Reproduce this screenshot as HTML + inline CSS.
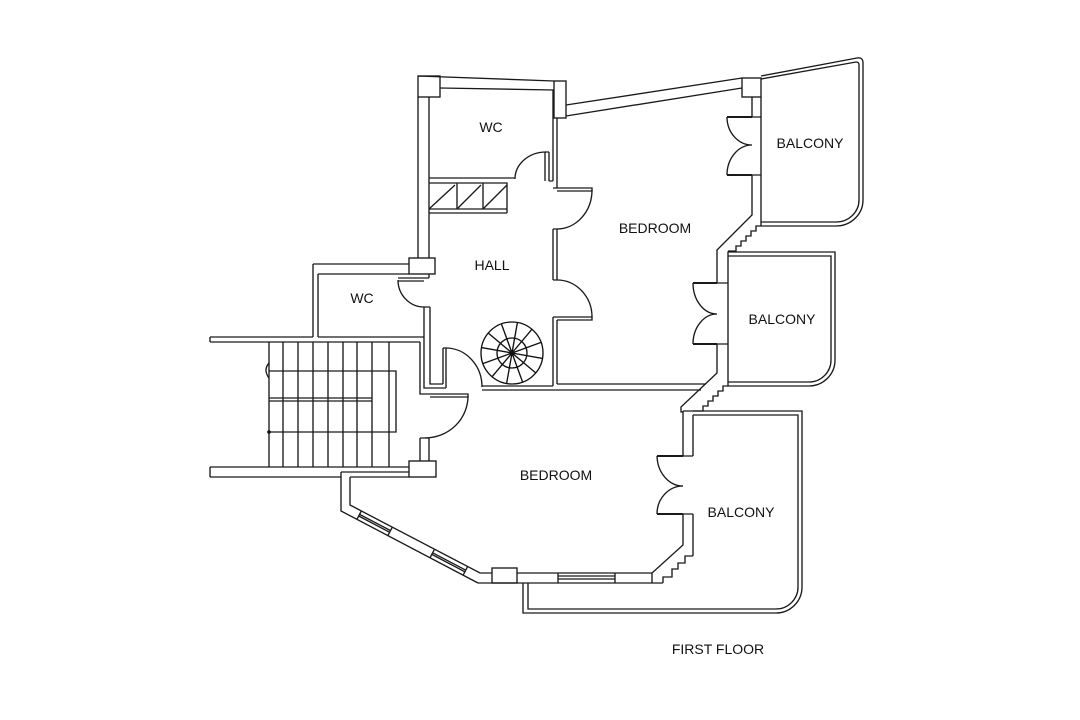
<!DOCTYPE html>
<html>
<head>
<meta charset="utf-8">
<style>
  html,body{margin:0;padding:0;background:#fff;}
  svg{display:block;}
  text{font-family:"Liberation Sans",Arial,sans-serif;font-size:14px;fill:#111;}
</style>
</head>
<body>
<svg width="1080" height="720" viewBox="0 0 1080 720" xmlns="http://www.w3.org/2000/svg">
<rect width="1080" height="720" fill="#fff"/>
<g fill="none" stroke="#1a1a1a" stroke-width="1.35" stroke-linejoin="miter">

  <!-- ===== Upper WC block ===== -->
  <rect x="418" y="76" width="22" height="21"/>
  <path d="M418,76 L554,81"/>
  <path d="M440,88 L554,90"/>
  <rect x="554" y="81" width="12" height="37"/>
  <path d="M418,97 V258 M429,97 V258"/>
  <path d="M553,90 V181 M557,118 V188"/>
  <path d="M429,178 H515"/>
  <!-- WC door -->
  <path d="M545,152 V181 M549,152 V181 M545,152 H549 M549,181 H553"/>
  <path d="M546,152 A31,27 0 0 0 515,179"/>
  <!-- cabinet -->
  <path d="M429,183 H507 V213 M429,209 H507 M429,213 H507 M457,183 V209 M483,183 V209"/>
  <path d="M429,209 L455,185 M457,209 L481,185 M483,209 L507,185"/>

  <!-- ===== Hall right wall & doors ===== -->
  <path d="M553,188 H592 V191 H557"/>
  <path d="M592,190 A35,39 0 0 1 557,229"/>
  <path d="M553,229 V280 M557,229 V280 M553,229 H557 M553,280 H557"/>
  <path d="M557,280 A35,37 0 0 1 592,317"/>
  <path d="M553,317 H592 V320 H557"/>
  <path d="M553,317 V386 M557,320 V384"/>

  <!-- ===== Upper bedroom ===== -->
  <path d="M566,105 L742,78 M566,116 L742,88"/>
  <rect x="742" y="78" width="19" height="19"/>
  <path d="M752,97 V117 M761,97 V226"/>
  <path d="M752,117 H761 M752,175 H761"/>
  <path d="M727,117 H752 M727,175 H752" stroke-width="2"/>
  <path d="M727,117 A25,28 0 0 0 752,145 M752,145 A25,30 0 0 0 727,175"/>
  <path d="M752,175 V215 L717,250 V283"/>
  <path d="M761,226 H756 V231 H751 V236 H746 V241 H741 V246 H736 V251 H728"/>
  <!-- balcony 2 door -->
  <path d="M717,283 H728 M717,344 H728"/>
  <path d="M693,283 H717 M693,344 H717" stroke-width="2"/>
  <path d="M693,283 A24,31 0 0 0 717,314 M717,314 A24,30 0 0 0 693,344"/>
  <path d="M717,344 V373 L681,407 V412 H683"/>
  <path d="M728,386 H723 V391 H718 V396 H713 V401 H708 V406 H703 V411 H693"/>
  <path d="M557,384 H706"/>
  <path d="M482,386 H553"/>
  <path d="M482,390 H701"/>

  <!-- ===== Balcony 1 ===== -->
  <path d="M761,76 L857,58 Q863,57 863,63 V200 A27,26 0 0 1 836,226 H761"/>
  <path d="M761,79 L856,62 Q859,62 859,65 V200 A23,22 0 0 1 836,222 H761"/>

  <!-- ===== Balcony 2 ===== -->
  <path d="M728,252 H835 V360 A26,26 0 0 1 809,386 H728 Z"/>
  <path d="M728,256 H831 V360 A22,22 0 0 1 809,382 H728"/>

  <!-- ===== Balcony 3 ===== -->
  <path d="M683,411 H802 V587 A26,26 0 0 1 776,613 H523 V583"/>
  <path d="M693,415 H798 V587 A22,22 0 0 1 776,609 H528 V583"/>

  <!-- lower bedroom right wall and door -->
  <path d="M683,411 V456 M693,415 V456"/>
  <path d="M683,456 H693 M683,514 H693"/>
  <path d="M657,456 H683 M657,514 H683" stroke-width="2"/>
  <path d="M657,456 A26,31 0 0 0 683,486 M683,486 A26,28 0 0 0 657,514"/>
  <path d="M683,514 V545 L652,573 V583 M693,514 V556"/>
  <path d="M693,556 H685 V563 H678 V569 H672 V577 H663 V583"/>

  <!-- ===== Lower bedroom bottom & diagonal ===== -->
  <path d="M517,573 H652"/>
  <path d="M478,583 H663"/>
  <rect x="492" y="568" width="25" height="15"/>
  <path d="M558,573 V583 M615,573 V583 M558,576 H615 M558,579 H615"/>
  <path d="M341,472 V511 L478,583"/>
  <path d="M350,477 V505 L480,573 H492"/>
  <!-- diagonal windows -->
  <path d="M356.9,519.4 L361.3,511.0 M387.9,535.6 L392.3,527.2 M358.7,516.0 L389.7,532.3 M359.6,514.4 L390.6,530.6"/>
  <path d="M430.0,557.8 L434.4,549.4 M463.1,575.2 L467.5,566.8 M431.8,554.4 L464.9,571.8 M432.7,552.8 L465.8,570.2"/>
  <path d="M341,472 H409 M350,477 H409"/>

  <!-- ===== Stair walls ===== -->
  <path d="M210,467 H409 M210,477 H341 M210,467 V477"/>
  <rect x="409" y="461" width="27" height="16"/>
  <path d="M420,438 V461 M429,438 V461 M420,438 H429"/>
  <path d="M468,396 A43,42 0 0 1 425,438"/>
  <path d="M430,394 H468 V397 H430"/>
  <path d="M420,342 V394 H430"/>

  <!-- hall left lower wall & landing door -->
  <path d="M424,307 V388 H446 M430,307 V384 H443 M424,307 H430"/>
  <path d="M443,348 V384 M446,348 V388 M443,348 H446"/>
  <path d="M446,348 A36,39 0 0 1 482,387"/>

  <!-- ===== WC2 ===== -->
  <path d="M313,264 H409 M318,274 H409 M313,264 V337 M318,274 V337"/>
  <path d="M210,337 H313 M318,337 H424 M210,342 H420 M210,337 V342"/>
  <rect x="409" y="258" width="26" height="16"/>
  <path d="M429,274 V278 M398,278 H429 M398,281 H424"/>
  <path d="M398,280 A26,27 0 0 0 424,307"/>

  <!-- ===== Stair treads ===== -->
  <path d="M269,342 V467 M283,342 V467 M298,342 V467 M313,342 V467 M328,342 V467 M343,342 V467 M357,342 V467 M372,342 V467 M389,342 V467"/>
  <path d="M269,371 H396 V432 H269 M269,398 H372 M269,401 H372"/>
  <path d="M269,363 Q263,370 269,378"/>

  <!-- ===== Spiral stair ===== -->
  <circle cx="512" cy="353" r="31" stroke="#111"/>
  <circle cx="512" cy="353" r="15" stroke="#111"/>
  <path stroke="#111" d="M512,353 L542.5,358.4 M512,353 L535.7,372.9 M512,353 L522.6,382.1 M512,353 L506.6,383.5 M512,353 L492.1,376.7 M512,353 L482.9,363.6 M512,353 L481.5,347.6 M512,353 L488.3,333.1 M512,353 L501.4,323.9 M512,353 L517.4,322.5 M512,353 L531.9,329.3 M512,353 L541.1,342.4"/>
</g>
<circle cx="269" cy="432" r="1.8" fill="#111"/>

<!-- ===== Labels ===== -->
<text x="491" y="132" text-anchor="middle">WC</text>
<text x="655" y="233" text-anchor="middle">BEDROOM</text>
<text x="492" y="270" text-anchor="middle">HALL</text>
<text x="362" y="303" text-anchor="middle">WC</text>
<text x="810" y="148" text-anchor="middle">BALCONY</text>
<text x="782" y="324" text-anchor="middle">BALCONY</text>
<text x="556" y="480" text-anchor="middle">BEDROOM</text>
<text x="741" y="517" text-anchor="middle">BALCONY</text>
<text x="718" y="654" text-anchor="middle">FIRST FLOOR</text>
</svg>
</body>
</html>
